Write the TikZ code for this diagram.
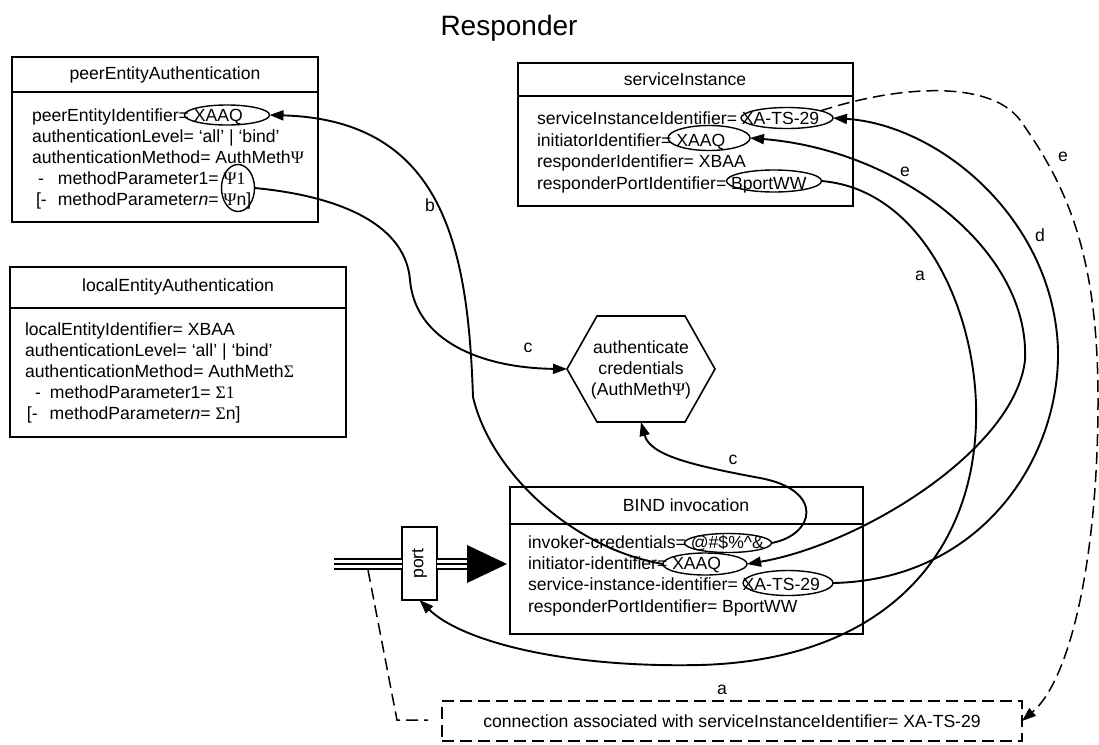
\documentclass[tikz,border=0pt]{standalone}
\usepackage{fontspec}
\setmainfont{Liberation Sans}
\newfontfamily\grk{Liberation Serif}
\usetikzlibrary{arrows.meta,shapes.geometric}
\begin{document}
\begin{tikzpicture}[x=1pt,y=-1pt,
  every node/.style={inner sep=0pt, outer sep=0pt},
  txt/.style={font=\fontsize{17.6}{21}\selectfont, anchor=base west},
  hdr/.style={font=\fontsize{17.6}{21}\selectfont},
  rec/.style={draw, line width=1.9pt, anchor=north west},
  divider/.style={line width=1.6pt},
  oval/.style={draw, ellipse, line width=1.4pt},
  conn/.style={line width=1.9pt, -{Triangle[length=14pt,width=10pt]}},
  bothconn/.style={line width=1.9pt, {Triangle[length=14pt,width=10pt]}-{Triangle[length=14pt,width=10pt]}},
  lbl/.style={font=\fontsize{17.6}{21}\selectfont},
  dsh/.style={dash pattern=on 12pt off 6pt}
]
\useasboundingbox (0,0) rectangle (1099,744);

% title
\node[font=\fontsize{28}{34}\selectfont] (title) at (509,28) {Responder};

% peerEntityAuthentication
\node[rec, minimum width=306pt, minimum height=165pt] (peer) at (12,57) {};
\draw[divider] ([yshift=-35pt]peer.north west) -- ([yshift=-35pt]peer.north east);
\node[hdr] (peerH) at (165,75) {peerEntityAuthentication};
\node[txt] (p1) at (32,121) {peerEntityIdentifier= XAAQ};
\node[txt] (p2) at (32,142) {authenticationLevel= ‘all’ | ‘bind’};
\node[txt] (p3) at (32,163) {authenticationMethod= AuthMeth{\grk Ψ}};
\node[txt] (p4) at (38,184) {-\hspace{14pt}methodParameter1= {\grk Ψ1}};
\node[txt] (p5) at (36,205) {[-\hspace{11pt}methodParameter\textit{n}= {\grk Ψ}n]};
\node[oval, minimum width=85pt, minimum height=20pt] (pXAAQ) at (227,115) {};
\node[oval, minimum width=33pt, minimum height=47pt] (pPsi) at (238,188) {};

% localEntityAuthentication
\node[rec, minimum width=336pt, minimum height=170pt] (local) at (10,267) {};
\draw[divider] ([yshift=-41pt]local.north west) -- ([yshift=-41pt]local.north east);
\node[hdr] (localH) at (178,287) {localEntityAuthentication};
\node[txt] (l1) at (25,335) {localEntityIdentifier= XBAA};
\node[txt] (l2) at (25,356) {authenticationLevel= ‘all’ | ‘bind’};
\node[txt] (l3) at (25,377) {authenticationMethod= AuthMeth{\grk Σ}};
\node[txt] (l4) at (35,398) {-\hspace{9pt}methodParameter1= {\grk Σ1}};
\node[txt] (l5) at (27,419) {[-\hspace{12pt}methodParameter\textit{n}= {\grk Σ}n]};

% serviceInstance
\node[rec, minimum width=335pt, minimum height=143pt] (svc) at (518,63) {};
\draw[divider] ([yshift=-33pt]svc.north west) -- ([yshift=-33pt]svc.north east);
\node[hdr] (svcH) at (685,79) {serviceInstance};
\node[txt] (s1) at (537,124) {serviceInstanceIdentifier= XA-TS-29};
\node[txt] (s2) at (537,146) {initiatorIdentifier= XAAQ};
\node[txt] (s3) at (537,167) {responderIdentifier= XBAA};
\node[txt] (s4) at (537,189) {responderPortIdentifier= BportWW};
\node[oval, minimum width=92pt, minimum height=21pt] (sTS) at (787,118) {};
\node[oval, minimum width=82pt, minimum height=25pt] (sXAAQ) at (709,138) {};
\node[oval, minimum width=95pt, minimum height=22pt] (sBport) at (774,181) {};

% hexagon
\coordinate (hexW) at (567,369);
\coordinate (hexNW) at (597,316);
\coordinate (hexNE) at (685,316);
\coordinate (hexE) at (715,369);
\coordinate (hexSE) at (685,422);
\coordinate (hexSW) at (597,422);
\coordinate (hexS) at (641,422);
\draw[line width=1.6pt] (hexW) -- (hexNW) -- (hexNE) -- (hexE) -- (hexSE) -- (hexSW) -- cycle;
\node[hdr, align=center] (hex) at (641,370) {authenticate\\credentials\\(AuthMeth{\grk Ψ})};

% BIND invocation
\node[rec, minimum width=353pt, minimum height=147pt] (bind) at (510,487) {};
\draw[divider] ([yshift=-37pt]bind.north west) -- ([yshift=-37pt]bind.north east);
\node[hdr] (bindH) at (686,505) {BIND invocation};
\node[txt] (b1) at (528,548) {invoker-credentials= @\#\$\%\textasciicircum\&};
\node[txt] (b2) at (528,569) {initiator-identifier= XAAQ};
\node[txt] (b3) at (528,590) {service-instance-identifier= XA-TS-29};
\node[txt] (b4) at (528,612) {responderPortIdentifier= BportWW};
\node[oval, minimum width=87pt, minimum height=19pt] (bCred) at (728,543) {};
\node[oval, minimum width=84pt, minimum height=22pt] (bXAAQ) at (705,564) {};
\node[oval, minimum width=90pt, minimum height=25pt] (bTS) at (788,583) {};

% port
\node[rec, minimum width=35pt, minimum height=73pt, line width=1.6pt] (port) at (402,527) {};
\node[hdr, rotate=90] (portT) at (419.5,563.5) {port};
\coordinate (tl) at (334,564);
\coordinate (tr) at (467,564);
\foreach \w/\c in {12.5pt/black, 7.5pt/white, 2.5pt/black}{
  \draw[line width=\w, draw=\c] (tl) -- (tl -| port.west);
  \draw[line width=\w, draw=\c] (port.east |- tr) -- (tr);
}
\coordinate (triT) at (467,545);
\coordinate (triB) at (467,583);
\coordinate (triTip) at (507,564);
\fill (triT) -- (triB) -- (triTip) -- cycle;

% connection box
\node[draw, dsh, line width=1.5pt, minimum width=580pt, minimum height=40pt, anchor=north west] (conbox) at (442,701) {};
\node[hdr] (conT) at (732,721) {connection associated with serviceInstanceIdentifier= XA-TS-29};
\coordinate (dA) at (368,570);
\coordinate (dB) at (397,720);
\coordinate (dC) at (428,720);
\draw[dsh, line width=1.5pt] (dA) -- (dB) -- (dC);

% connectors
% a
\draw[conn] (sBport.east) .. controls (930,190) and (985,330) .. (975,440)
  .. controls (965,560) and (880,660) .. (700,665)
  .. controls (560,668) and (460,640) .. (port.south);
\node[lbl] (la1) at (920,276) {a};
\node[lbl] (la2) at (722,690) {a};
% b
\draw[conn] (bXAAQ.west) .. controls (570,548) and (490,470) .. (473,397)
  .. controls (468,250) and (445,120) .. (pXAAQ.east);
\node[lbl] (lb) at (430,205) {b};
% c
\draw[conn] (pPsi.east) .. controls (330,195) and (405,220) .. (410,280)
  .. controls (415,340) and (480,368) .. (hexW);
\node[lbl] (lc1) at (528,348) {c};
\draw[conn] (bCred.east) .. controls (815,535) and (825,490) .. (760,478)
  .. controls (690,465) and (650,455) .. (hexS);
\node[lbl] (lc2) at (733,460) {c};
% d
\draw[conn] (bTS.east) .. controls (980,580) and (1060,460) .. (1058,350)
  .. controls (1054,220) and (940,125) .. (sTS.east);
\node[lbl] (ld) at (1040,235) {d};
% e solid
\draw[bothconn] (sXAAQ.east) .. controls (900,150) and (1030,250) .. (1025,360)
  .. controls (1015,450) and (860,545) .. (bXAAQ.east);
\node[lbl] (le1) at (905,172) {e};
% e dashed
\draw[conn, dsh, line width=1.5pt] (sTS.12) .. controls (900,85) and (990,80) .. (1020,120)
  .. controls (1070,190) and (1098,260) .. (1098,400)
  .. controls (1098,560) and (1070,680) .. (conbox.east);
\node[lbl] (le2) at (1063,157) {e};

\end{tikzpicture}
\end{document}
